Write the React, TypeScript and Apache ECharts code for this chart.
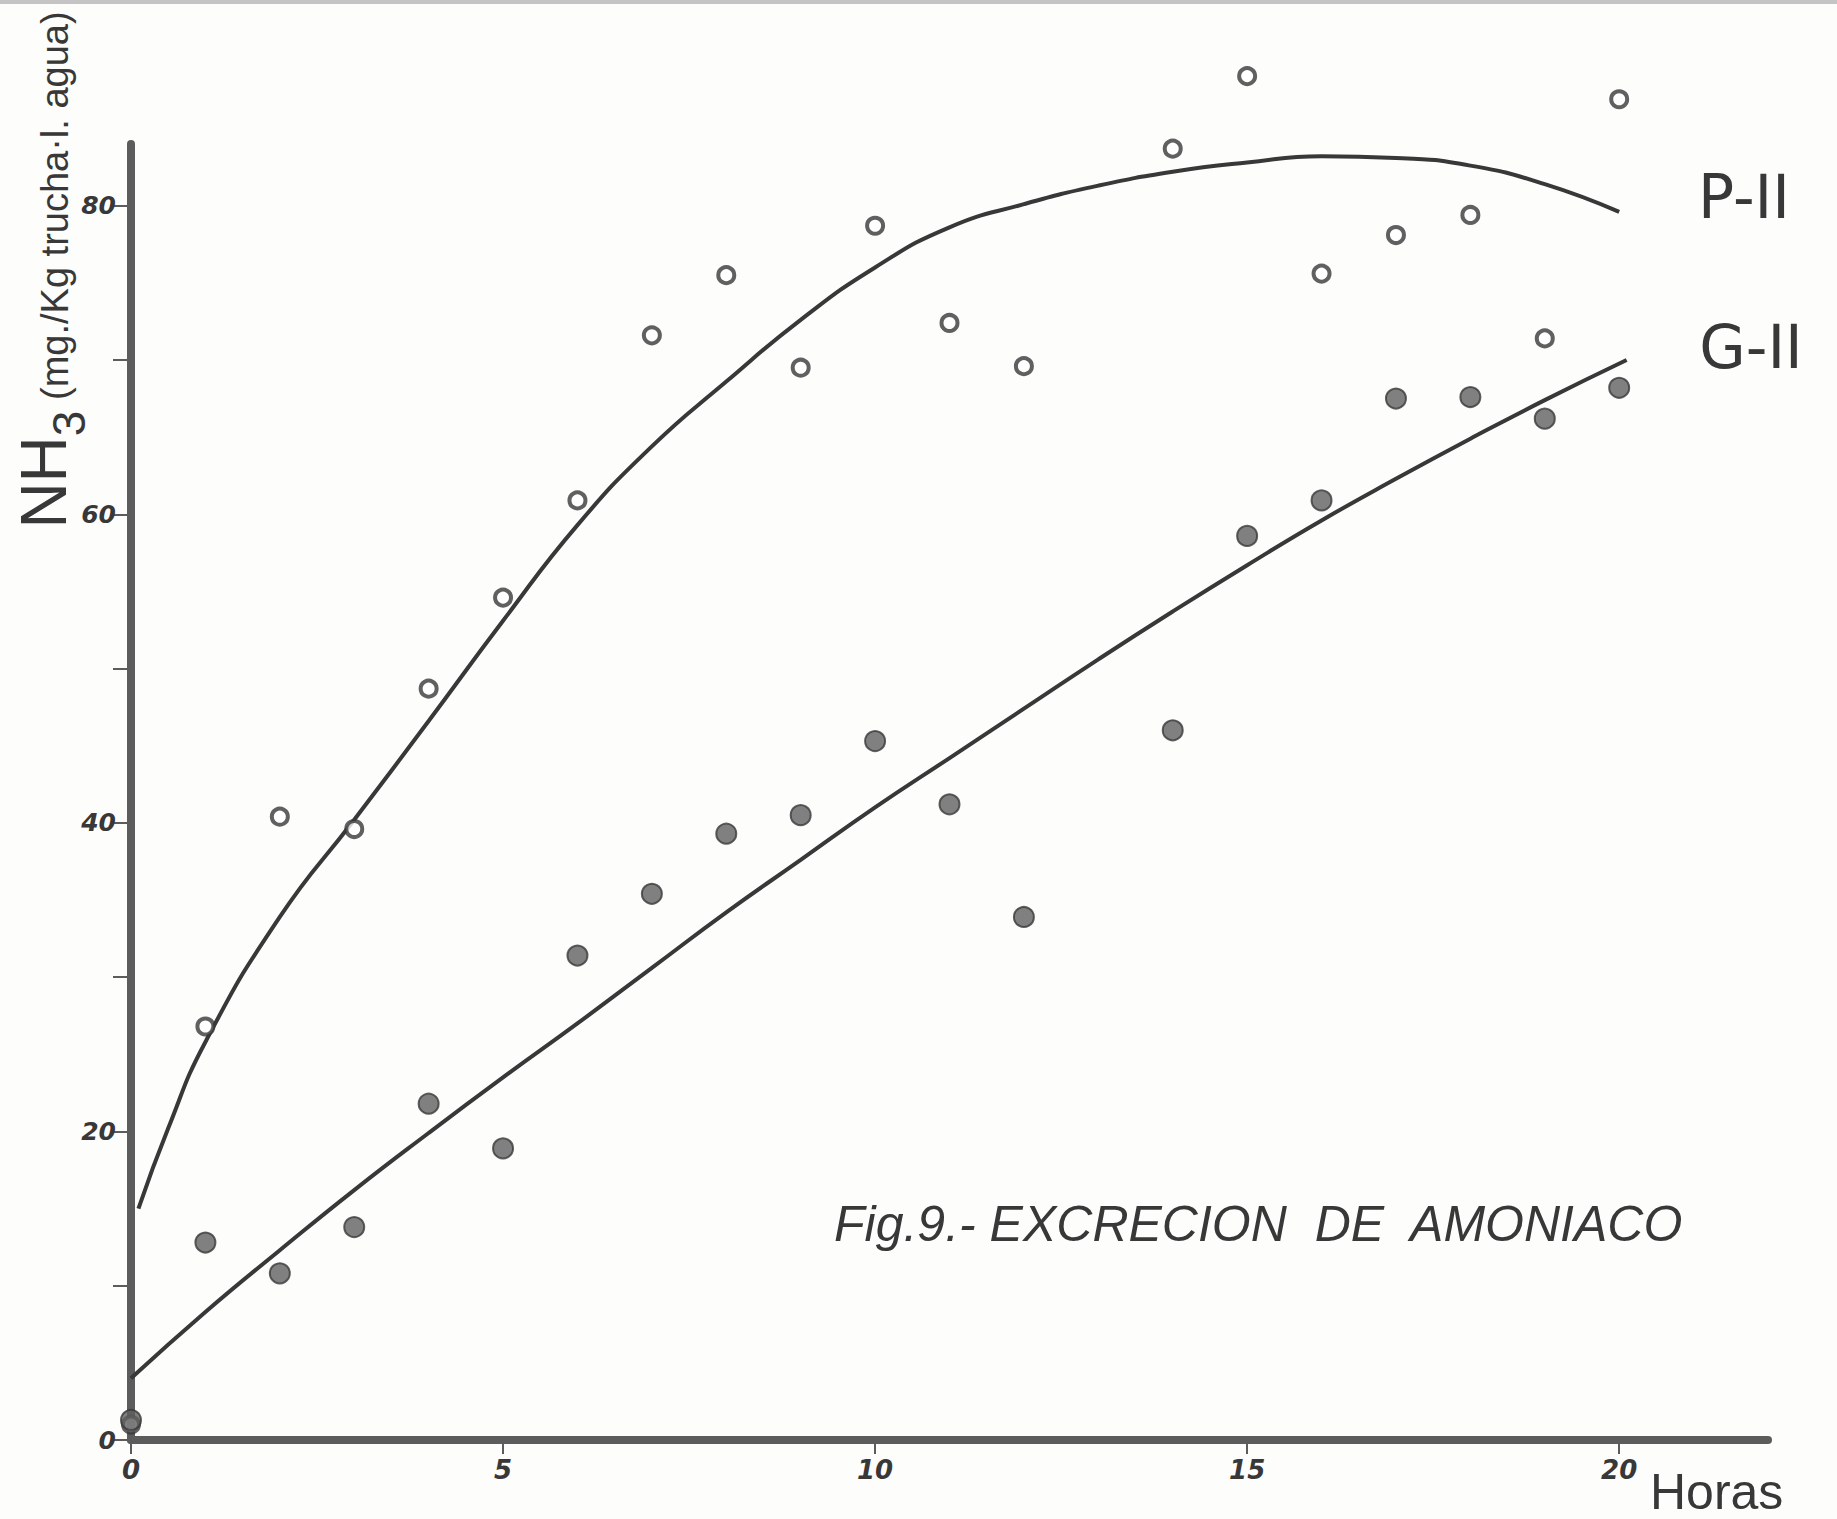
import React, { useEffect, useRef } from "react";
import * as echarts from "echarts";

// Measurement hours (no sample at hour 13)
const hours = [0, 1, 2, 3, 4, 5, 6, 7, 8, 9, 10, 11, 12, 14, 15, 16, 17, 18, 19, 20];
// P-II (open circles)
const pII = [1.0, 26.8, 40.4, 39.6, 48.7, 54.6, 60.9, 71.6, 75.5, 69.5, 78.7, 72.4, 69.6, 83.7, 88.4, 75.6, 78.1, 79.4, 71.4, 86.9];
// G-II (filled circles)
const gII = [1.3, 12.8, 10.8, 13.8, 21.8, 18.9, 31.4, 35.4, 39.3, 40.5, 45.3, 41.2, 33.9, 46.0, 58.6, 60.9, 67.5, 67.6, 66.2, 68.2];

// Hand-drawn fitted curves
const pCurveHours = [0.1, 0.5, 1, 2, 3, 4, 5, 6, 7, 8, 9, 10, 11, 12, 13, 14, 15, 16, 17, 18, 19, 20];
const pCurve = [15.0, 20.2, 25.8, 33.9, 40.2, 46.6, 53.1, 59.3, 64.4, 68.6, 72.6, 76.0, 78.6, 80.1, 81.3, 82.2, 82.8, 83.2, 83.1, 82.6, 81.4, 79.6];
const gCurveHours = [0, 1, 2, 3, 4, 5, 6, 7, 8, 9, 10, 11, 12, 13, 14, 15, 16, 17, 18, 19, 20.1];
const gCurve = [4.0, 8.3, 12.3, 16.2, 19.9, 23.5, 27.0, 30.6, 34.2, 37.6, 41.0, 44.2, 47.4, 50.6, 53.7, 56.7, 59.6, 62.3, 64.9, 67.4, 70.0];

const xTicks = [0, 5, 10, 15, 20];
const yTicks = [0, 10, 20, 30, 40, 50, 60, 70, 80];
const yLabels = [0, 20, 40, 60, 80];
const xMax = 22;
const yMax = 84;

const INK = "#383838";
const AXIS = "#5c5c5c";

export default function App() {
  const ref = useRef<HTMLDivElement>(null);

  useEffect(() => {
    if (!ref.current) return;
    const chart = echarts.init(ref.current, null, { renderer: "svg" });
    const zip = (xs: number[], ys: number[]) => xs.map((x, i) => [x, ys[i]]);

    const option = {
      animation: false,
      backgroundColor: "#fdfdfc",
      grid: { left: 131, top: 144, width: 1637, height: 1296 },
      xAxis: {
        type: "value",
        min: 0,
        max: xMax,
        axisLine: { show: true, lineStyle: { color: AXIS, width: 8 } },
        axisTick: { show: true, customValues: xTicks, length: 14, lineStyle: { color: AXIS, width: 2 } },
        axisLabel: {
          customValues: xTicks,
          margin: 17,
          color: INK,
          fontSize: 26,
          fontStyle: "italic",
          fontWeight: "bold",
          fontFamily: "DejaVu Sans",
        },
        splitLine: { show: false },
      },
      yAxis: {
        type: "value",
        min: 0,
        max: yMax,
        axisLine: { show: true, lineStyle: { color: AXIS, width: 8 } },
        axisTick: { show: true, customValues: yTicks, length: 18, lineStyle: { color: AXIS, width: 2 } },
        axisLabel: {
          customValues: yLabels,
          margin: 15,
          color: INK,
          fontSize: 25,
          fontStyle: "italic",
          fontWeight: "bold",
          fontFamily: "DejaVu Sans",
        },
        splitLine: { show: false },
      },
      series: [
        {
          name: "P-II curve",
          type: "line",
          data: zip(pCurveHours, pCurve),
          smooth: true,
          showSymbol: false,
          lineStyle: { color: INK, width: 4 },
          z: 2,
        },
        {
          name: "G-II curve",
          type: "line",
          data: zip(gCurveHours, gCurve),
          smooth: true,
          showSymbol: false,
          lineStyle: { color: INK, width: 4 },
          z: 2,
        },
        {
          name: "P-II",
          type: "scatter",
          data: zip(hours, pII),
          symbol: "circle",
          symbolSize: 16,
          clip: false,
          itemStyle: { color: "#ffffff", borderColor: INK, borderWidth: 4 },
          z: 3,
        },
        {
          name: "G-II",
          type: "scatter",
          data: zip(hours, gII),
          symbol: "circle",
          symbolSize: 20,
          clip: false,
          itemStyle: { color: "#606060", borderColor: "#383838", borderWidth: 2 },
          z: 3,
        },
      ],
      graphic: [
        {
          type: "rect",
          shape: { x: 0, y: 0, width: 1837, height: 4 },
          style: { fill: "#c4c4c4" },
          silent: true,
        },
        {
          type: "text",
          x: 52,
          y: 270,
          rotation: Math.PI / 2,
          style: {
            text: "{a|NH}{b|3}{c| (mg./Kg trucha·l. agua)}",
            align: "center",
            verticalAlign: "middle",
            fill: INK,
            rich: {
              a: { fontSize: 64, fontFamily: "Liberation Sans", fill: INK, verticalAlign: "bottom", padding: [0, 0, 16, 0] },
              b: { fontSize: 46, fontFamily: "Liberation Sans", fill: INK, verticalAlign: "bottom" },
              c: { fontSize: 38, fontFamily: "Liberation Sans", fill: INK, verticalAlign: "bottom", padding: [0, 0, 18, 0] },
            },
          },
        },
        {
          type: "text",
          x: 1744,
          y: 197,
          style: { text: "P-II", fontSize: 60, fontFamily: "DejaVu Sans", fill: INK, align: "center", verticalAlign: "middle" },
        },
        {
          type: "text",
          x: 1751,
          y: 347,
          style: { text: "G-II", fontSize: 60, fontFamily: "DejaVu Sans", fill: INK, align: "center", verticalAlign: "middle" },
        },
        {
          type: "text",
          x: 834,
          y: 1224,
          style: {
            text: "Fig.9.- EXCRECION  DE  AMONIACO",
            fontSize: 50,
            fontFamily: "Liberation Sans",
            fontStyle: "italic",
            fill: INK,
            align: "left",
            verticalAlign: "middle",
          },
        },
        {
          type: "text",
          x: 1650,
          y: 1492,
          style: { text: "Horas", fontSize: 50, fontFamily: "Liberation Sans", fill: INK, align: "left", verticalAlign: "middle" },
        },
      ],
    };

    chart.setOption(option as any);
    return () => chart.dispose();
  }, []);

  return (
    <div
      ref={ref}
      style={{ position: "absolute", left: 0, top: 0, width: 1837, height: 1519 }}
    />
  );
}
